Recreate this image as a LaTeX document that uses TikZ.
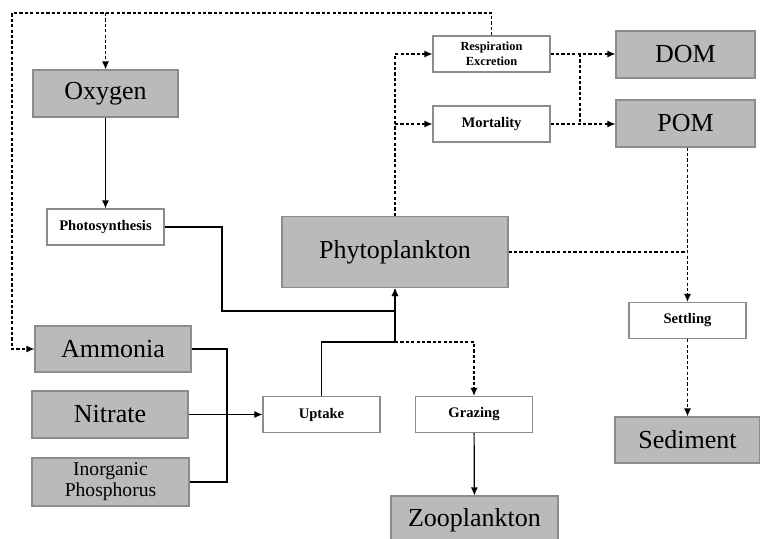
\documentclass[tikz,border=0pt]{standalone}
\usepackage{fontspec}
\setmainfont{Liberation Serif}
\usetikzlibrary{arrows.meta}
\begin{document}
\begin{tikzpicture}[x=0.5pt,y=-0.5pt,
    pool/.style={draw=black!45,fill=black!27,line width=0.6pt,inner sep=1pt,
      font=\fontsize{13}{13}\selectfont,align=center},
    proc/.style={draw=black!45,fill=white,line width=0.6pt,inner sep=1pt,
      minimum width=58.5pt,minimum height=18pt,
      font=\fontsize{7.3}{8}\selectfont\bfseries,align=center},
    flow/.style={line width=0.6pt,-{Latex[length=4pt,width=3.5pt]}},
    dflow/.style={flow,dash pattern=on 1.6pt off 1.1pt}]
  \clip (0,0) rectangle (760,538);
  % pools
  \node[pool,minimum width=72.5pt,minimum height=23.5pt] (oxygen) at (105.5,93.5) {Oxygen};
  \node[pool,minimum width=113pt,minimum height=35.5pt] (phyto) at (395,252) {Phytoplankton};
  \node[pool,minimum width=69.5pt,minimum height=23.5pt] (dom) at (685.5,54.5) {DOM};
  \node[pool,minimum width=69.5pt,minimum height=23.5pt] (pom) at (685.5,123.5) {POM};
  \node[pool,minimum width=72.5pt,minimum height=23pt] (sed) at (687.5,440) {Sediment};
  \node[pool,minimum width=78pt,minimum height=23pt] (ammonia) at (113,349) {Ammonia};
  \node[pool,minimum width=78pt,minimum height=23.5pt] (nitrate) at (110,414.5) {Nitrate};
  \node[pool,minimum width=78.5pt,minimum height=24pt,font=\fontsize{9.8}{10.5}\selectfont] (phos) at (110.5,482) {Inorganic\\Phosphorus};
  \node[pool,minimum width=83.5pt,minimum height=24pt] (zoo) at (474.5,520) {Zooplankton};
  % processes
  \node[proc] (photo) at (105.5,227) {Photosynthesis};
  \node[proc,font=\fontsize{6.2}{7.3}\selectfont\bfseries] (resp) at (491.5,54) {Respiration\\Excretion};
  \node[proc] (mort) at (491.5,124) {Mortality};
  \node[proc] (settl) at (687.5,320.5) {Settling};
  \node[proc] (uptake) at (321.5,414.5) {Uptake};
  \node[proc] (grazing) at (474,414.5) {Grazing};
  % junctions
  \coordinate (loop) at (12,13);
  \coordinate (pjoin) at (222,311);
  \coordinate (ujoin) at (395,342);
  \coordinate (njoin) at (227,414.5);
  \coordinate (mjoin) at (580,54);
  % connectors
  \draw[dflow] (resp.north) |- (loop) |- (ammonia.west);
  \draw[dflow] (oxygen.north |- loop) -- (oxygen.north);
  \draw[flow] (oxygen) -- (photo);
  \draw[flow] (photo.east) -| (pjoin) -- (pjoin -| phyto.south) -- (phyto.south);
  \draw[flow] (uptake.north) |- (ujoin) -- (phyto.south);
  \draw[dflow] (ujoin) -| (grazing.north);
  \draw[flow] (grazing) -- (zoo);
  \draw[line width=0.6pt] (ammonia.east) -| (njoin) |- (phos.east);
  \draw[flow] (nitrate.east) -- (uptake.west);
  \draw[dflow] (phyto.north) |- (resp.west);
  \draw[dflow] (phyto.north |- mort.west) -- (mort.west);
  \draw[dflow] (resp.east) -- (dom.west |- resp.east);
  \draw[dflow] (mort.east) -- (pom.west |- mort.east);
  \draw[dflow,-] (mjoin) -- (mjoin |- mort.east);
  \draw[dflow] (pom.south -| settl.north) -- (settl.north);
  \draw[dflow,-] (phyto.east) -- (phyto.east -| settl.north);
  \draw[dflow] (settl) -- (sed);
\end{tikzpicture}
\end{document}
